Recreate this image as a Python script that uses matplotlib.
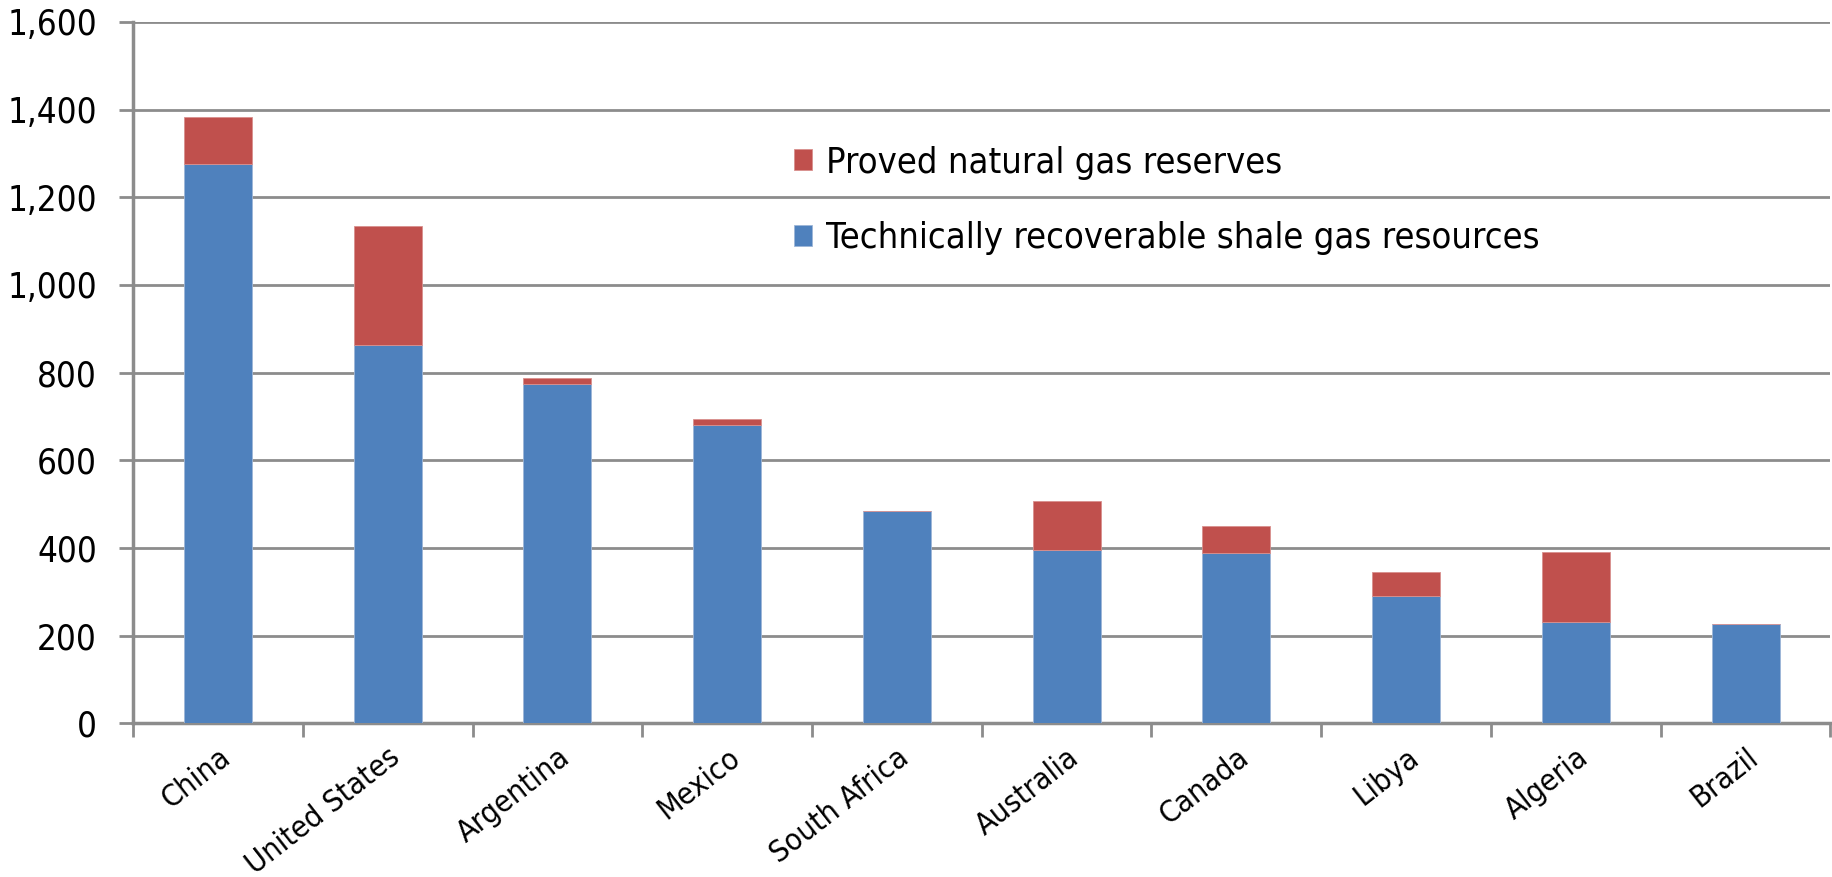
import matplotlib
matplotlib.use('Agg')
import matplotlib.pyplot as plt
from matplotlib import font_manager
import numpy as np
from matplotlib.ticker import FuncFormatter, MultipleLocator

# Данные
countries = ['China', 'United States', 'Argentina', 'Mexico', 'South Africa',
             'Australia', 'Canada', 'Libya', 'Algeria', 'Brazil']
shale = [1275, 862, 774, 681, 485, 396, 388, 290, 231, 226]
proved = [107, 272, 13, 12, 0, 110, 62, 55, 159, 0]

blue = '#4F81BD'
red = '#C0504D'
grid_col = '#8C8C8C'

# узкий шрифт (DejaVu Sans Condensed), иначе Lato
narrow = [f for f in font_manager.fontManager.ttflist
          if ('narrow' in f.fname.lower() or 'condensed' in f.fname.lower())
          and 'bold' not in f.fname.lower() and 'oblique' not in f.fname.lower()
          and 'italic' not in f.fname.lower()]
narrow.sort(key=lambda f: (0 if 'Liberation' in f.name else 1, f.fname))
if narrow:
    fprop = font_manager.FontProperties(fname=narrow[0].fname)
else:
    fprop = font_manager.FontProperties(family='Lato')

fig = plt.figure(figsize=(18.33, 8.77), dpi=100)
ax = fig.add_axes([0.0726, 0.1753, 0.926, 0.7997])

x = np.arange(len(countries))
ax.bar(x, shale, width=0.4, color=blue, edgecolor='#9DB6D8', linewidth=0.6,
       label='Technically recoverable shale gas resources', zorder=3)
ax.bar(x, proved, width=0.4, bottom=shale, color=red, edgecolor='#D9908E', linewidth=0.6,
       label='Proved natural gas reserves', zorder=3)

ax.set_xlim(-0.5, len(countries) - 0.5)
ax.set_ylim(0, 1600)
ax.yaxis.set_major_locator(MultipleLocator(200))
ax.yaxis.set_major_formatter(FuncFormatter(lambda v, p: f'{int(v):,}'))
ax.grid(axis='y', color=grid_col, linewidth=2, zorder=0)

for s in ['top', 'right']:
    ax.spines[s].set_visible(False)
for s in ['left', 'bottom']:
    ax.spines[s].set_color(grid_col)
    ax.spines[s].set_linewidth(2.5)

ax.tick_params(axis='y', length=10, width=2, color=grid_col, pad=16)
for lbl in ax.get_yticklabels():
    lbl.set_fontproperties(fprop)
    lbl.set_fontsize(25)

# деления по границам категорий, подписи по центрам
ax.set_xticks(np.arange(-0.5, len(countries) + 0.5, 1))
ax.set_xticklabels([])
ax.set_xticks(x, minor=True)
ax.set_xticklabels(countries, minor=True, rotation=38, ha='right', va='top',
                   rotation_mode='anchor', fontproperties=fprop, fontsize=22)
ax.tick_params(axis='x', which='major', length=10, width=2, color=grid_col)
ax.tick_params(axis='x', which='minor', length=0, pad=14)

handles, labels = ax.get_legend_handles_labels()
lp = fprop.copy()
lp.set_size(26)
leg = ax.legend(handles[::-1], labels[::-1], loc='upper left',
                bbox_to_anchor=(0.37, 0.87), frameon=False, prop=lp,
                handlelength=0.5, handleheight=0.5, handletextpad=0.4,
                labelspacing=1.15)

fig.savefig('out.png', dpi=100)
print("Saved")
